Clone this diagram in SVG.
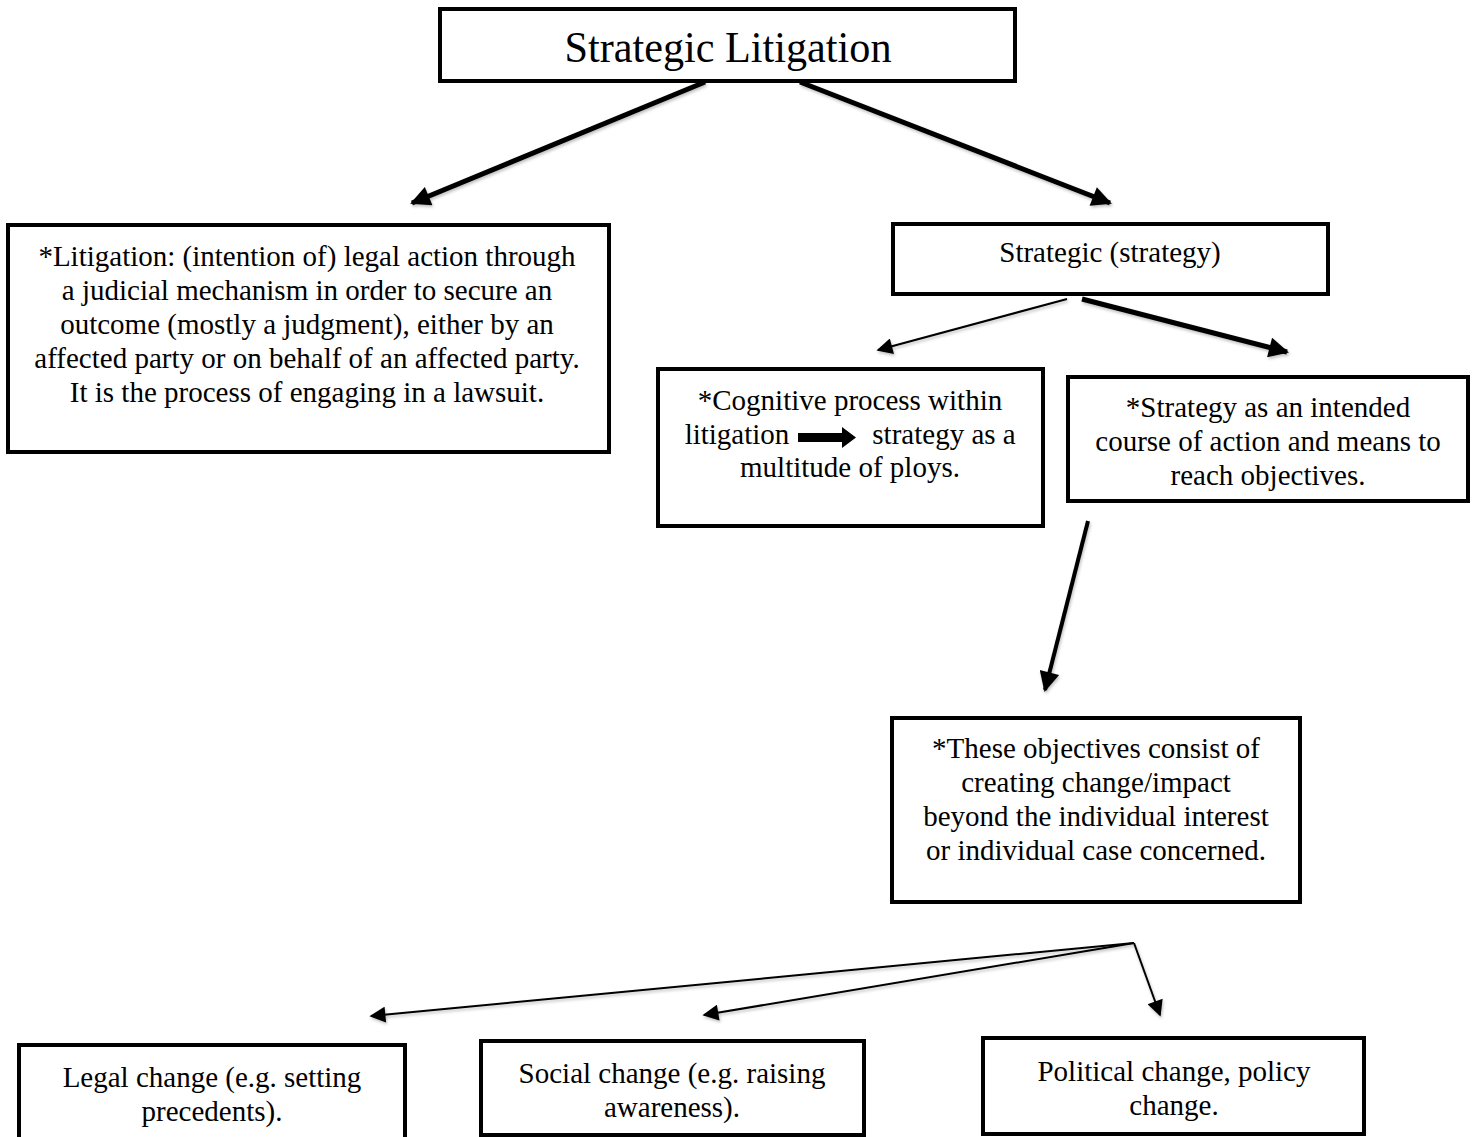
<svg xmlns="http://www.w3.org/2000/svg" width="1475" height="1137" viewBox="0 0 1475 1137">
<defs>
<style>
.box{fill:#fff;stroke:#000;stroke-width:4}
.t{font-family:"Liberation Serif","Times New Roman",serif;fill:#000;text-anchor:middle}
.m{font-size:29px}
.c{stroke:#000;fill:none}
</style>
<marker id="ahb" viewBox="0 0 10 10" refX="9" refY="5" markerWidth="24" markerHeight="20" orient="auto" markerUnits="userSpaceOnUse">
<path d="M0,0 L10,5 L0,10 z" fill="#000"/>
</marker>
<marker id="ahs" viewBox="0 0 10 10" refX="9" refY="5" markerWidth="18" markerHeight="16" orient="auto" markerUnits="userSpaceOnUse">
<path d="M0,0 L10,5 L0,10 z" fill="#000"/>
</marker>
<filter id="sh" x="-10%" y="-10%" width="120%" height="120%">
<feDropShadow dx="1" dy="2" stdDeviation="1.5" flood-color="#000" flood-opacity="0.25"/>
</filter>
</defs>

<g id="connectors" filter="url(#sh)">
<line class="c" x1="705" y1="82" x2="412" y2="203" stroke-width="5" marker-end="url(#ahb)"/>
<line class="c" x1="800" y1="82" x2="1110" y2="203" stroke-width="5" marker-end="url(#ahb)"/>
<line class="c" x1="1067" y1="299" x2="878" y2="350" stroke-width="2" marker-end="url(#ahs)"/>
<line class="c" x1="1082" y1="299" x2="1287" y2="352" stroke-width="5" marker-end="url(#ahb)"/>
<line class="c" x1="1088" y1="521" x2="1045" y2="690" stroke-width="4" marker-end="url(#ahb)"/>
<line class="c" x1="1134" y1="943" x2="371" y2="1016" stroke-width="2" marker-end="url(#ahs)"/>
<line class="c" x1="1134" y1="943" x2="704" y2="1015" stroke-width="2" marker-end="url(#ahs)"/>
<line class="c" x1="1134" y1="943" x2="1160" y2="1015" stroke-width="2" marker-end="url(#ahs)"/>
</g>

<g id="node-title">
<rect class="box" x="440" y="9" width="575" height="72"/>
<text class="t" x="728" y="62" font-size="45" textLength="327" lengthAdjust="spacingAndGlyphs">Strategic Litigation</text>
</g>

<g id="node-litigation">
<rect class="box" x="8" y="225" width="601" height="227"/>
<text class="t m" x="307" y="266">*Litigation: (intention of) legal action through</text>
<text class="t m" x="307" y="300">a judicial mechanism in order to secure an</text>
<text class="t m" x="307" y="334">outcome (mostly a judgment), either by an</text>
<text class="t m" x="307" y="368">affected party or on behalf of an affected party.</text>
<text class="t m" x="307" y="402">It is the process of engaging in a lawsuit.</text>
</g>

<g id="node-strategic">
<rect class="box" x="893" y="224" width="435" height="70"/>
<text class="t m" x="1110" y="262">Strategic (strategy)</text>
</g>

<g id="node-cognitive">
<rect class="box" x="658" y="369" width="385" height="157"/>
<text class="t m" x="850" y="410">*Cognitive process within</text>
<text class="t m" x="737" y="444">litigation</text>
<path d="M798,433 L842,433 L842,427 L856,437.5 L842,448 L842,442 L798,442 z" fill="#000"/>
<text class="t m" x="944" y="444">strategy as a</text>
<text class="t m" x="850" y="477">multitude of ploys.</text>
</g>

<g id="node-strategy">
<rect class="box" x="1068" y="377" width="400" height="124"/>
<text class="t m" x="1268" y="417">*Strategy as an intended</text>
<text class="t m" x="1268" y="451">course of action and means to</text>
<text class="t m" x="1268" y="485">reach objectives.</text>
</g>

<g id="node-objectives">
<rect class="box" x="892" y="718" width="408" height="184"/>
<text class="t m" x="1096" y="758">*These objectives consist of</text>
<text class="t m" x="1096" y="792">creating change/impact</text>
<text class="t m" x="1096" y="826">beyond the individual interest</text>
<text class="t m" x="1096" y="860">or individual case concerned.</text>
</g>

<g id="node-legal">
<rect class="box" x="19" y="1045" width="386" height="110"/>
<text class="t m" x="212" y="1087">Legal change (e.g. setting</text>
<text class="t m" x="212" y="1121">precedents).</text>
</g>

<g id="node-social">
<rect class="box" x="481" y="1041" width="383" height="94"/>
<text class="t m" x="672" y="1083">Social change (e.g. raising</text>
<text class="t m" x="672" y="1117">awareness).</text>
</g>

<g id="node-political">
<rect class="box" x="983" y="1038" width="381" height="96"/>
<text class="t m" x="1174" y="1081">Political change, policy</text>
<text class="t m" x="1174" y="1115">change.</text>
</g>
</svg>
